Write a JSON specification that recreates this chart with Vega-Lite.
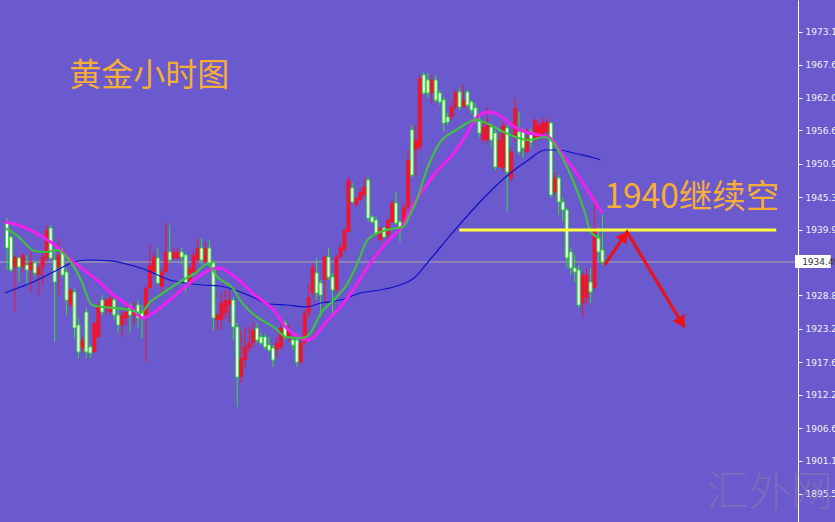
{
"$schema":"https://vega.github.io/schema/vega-lite/v6.json",
"width":798,"height":522,"autosize":{"type":"none"},
"padding":{"left":0,"top":0,"right":37,"bottom":0},
"background":"#6A5ACD",
"config":{"view":{"stroke":null}},
"datasets":{
"candles":[
{"i":0,"o":1941.03,"h":1941.87,"l":1933.15,"c":1936.84},
{"i":1,"o":1938.68,"h":1939.02,"l":1932.81,"c":1933.15},
{"i":2,"o":1933.65,"h":1935.66,"l":1926.09,"c":1935.33},
{"i":3,"o":1935.16,"h":1935.33,"l":1931.13,"c":1933.65},
{"i":4,"o":1933.65,"h":1936.00,"l":1932.81,"c":1935.66},
{"i":5,"o":1933.98,"h":1935.66,"l":1930.63,"c":1933.15},
{"i":6,"o":1933.15,"h":1936.17,"l":1929.45,"c":1934.49},
{"i":7,"o":1934.32,"h":1934.82,"l":1931.97,"c":1932.64},
{"i":8,"o":1932.31,"h":1933.98,"l":1928.95,"c":1933.65},
{"i":9,"o":1933.65,"h":1936.17,"l":1930.63,"c":1935.33},
{"i":10,"o":1935.16,"h":1940.70,"l":1934.49,"c":1939.86},
{"i":11,"o":1940.20,"h":1940.70,"l":1934.82,"c":1935.16},
{"i":12,"o":1934.82,"h":1936.50,"l":1921.06,"c":1931.13},
{"i":13,"o":1933.65,"h":1938.52,"l":1928.95,"c":1935.66},
{"i":14,"o":1936.17,"h":1936.84,"l":1931.97,"c":1932.31},
{"i":15,"o":1932.81,"h":1933.48,"l":1925.59,"c":1928.11},
{"i":16,"o":1927.27,"h":1930.12,"l":1926.77,"c":1929.79},
{"i":17,"o":1929.45,"h":1930.12,"l":1921.73,"c":1923.41},
{"i":18,"o":1923.91,"h":1925.09,"l":1918.37,"c":1919.38},
{"i":19,"o":1920.05,"h":1921.90,"l":1919.38,"c":1921.39},
{"i":20,"o":1926.09,"h":1926.77,"l":1918.37,"c":1919.38},
{"i":21,"o":1920.22,"h":1920.55,"l":1918.37,"c":1919.21},
{"i":22,"o":1919.38,"h":1924.42,"l":1919.21,"c":1924.25},
{"i":23,"o":1921.90,"h":1927.77,"l":1921.73,"c":1927.27},
{"i":24,"o":1928.11,"h":1928.95,"l":1925.59,"c":1926.09},
{"i":25,"o":1926.93,"h":1928.44,"l":1925.59,"c":1928.11},
{"i":26,"o":1926.09,"h":1928.95,"l":1925.59,"c":1928.44},
{"i":27,"o":1928.11,"h":1928.44,"l":1924.75,"c":1925.59},
{"i":28,"o":1925.59,"h":1926.77,"l":1922.57,"c":1923.91},
{"i":29,"o":1923.91,"h":1926.09,"l":1921.90,"c":1925.59},
{"i":30,"o":1925.09,"h":1927.27,"l":1923.91,"c":1926.09},
{"i":31,"o":1927.27,"h":1927.61,"l":1922.57,"c":1925.59},
{"i":32,"o":1925.59,"h":1927.77,"l":1923.91,"c":1926.43},
{"i":33,"o":1927.27,"h":1928.11,"l":1923.41,"c":1925.09},
{"i":34,"o":1926.09,"h":1927.27,"l":1921.73,"c":1925.09},
{"i":35,"o":1925.59,"h":1930.63,"l":1917.70,"c":1930.12},
{"i":36,"o":1930.12,"h":1937.34,"l":1929.79,"c":1933.98},
{"i":37,"o":1932.81,"h":1936.17,"l":1932.31,"c":1935.33},
{"i":38,"o":1935.16,"h":1936.84,"l":1930.63,"c":1930.96},
{"i":39,"o":1930.29,"h":1933.48,"l":1929.45,"c":1932.81},
{"i":40,"o":1932.81,"h":1941.20,"l":1932.64,"c":1936.17},
{"i":41,"o":1936.17,"h":1940.70,"l":1934.32,"c":1934.82},
{"i":42,"o":1935.16,"h":1936.84,"l":1934.82,"c":1936.17},
{"i":43,"o":1935.16,"h":1936.84,"l":1934.82,"c":1936.17},
{"i":44,"o":1936.17,"h":1936.84,"l":1933.98,"c":1935.33},
{"i":45,"o":1935.66,"h":1936.00,"l":1929.45,"c":1930.96},
{"i":46,"o":1930.96,"h":1933.98,"l":1930.63,"c":1933.48},
{"i":47,"o":1932.81,"h":1936.17,"l":1932.64,"c":1935.66},
{"i":48,"o":1934.82,"h":1938.52,"l":1934.32,"c":1936.84},
{"i":49,"o":1936.84,"h":1938.52,"l":1933.98,"c":1934.82},
{"i":50,"o":1934.49,"h":1937.85,"l":1934.32,"c":1936.84},
{"i":51,"o":1936.84,"h":1938.18,"l":1933.65,"c":1934.32},
{"i":52,"o":1934.32,"h":1934.82,"l":1923.07,"c":1925.09},
{"i":53,"o":1924.75,"h":1925.93,"l":1923.07,"c":1925.59},
{"i":54,"o":1924.75,"h":1929.28,"l":1923.07,"c":1927.61},
{"i":55,"o":1925.93,"h":1929.79,"l":1925.09,"c":1928.11},
{"i":56,"o":1927.27,"h":1929.79,"l":1924.25,"c":1928.11},
{"i":57,"o":1928.11,"h":1928.61,"l":1921.39,"c":1923.58},
{"i":58,"o":1923.58,"h":1924.25,"l":1910.15,"c":1915.18},
{"i":59,"o":1915.18,"h":1923.07,"l":1914.18,"c":1918.37},
{"i":60,"o":1918.04,"h":1923.58,"l":1916.86,"c":1920.22},
{"i":61,"o":1920.05,"h":1923.58,"l":1919.38,"c":1920.89},
{"i":62,"o":1920.89,"h":1924.42,"l":1920.22,"c":1923.07},
{"i":63,"o":1923.41,"h":1924.25,"l":1920.89,"c":1921.39},
{"i":64,"o":1921.90,"h":1922.57,"l":1920.55,"c":1920.89},
{"i":65,"o":1921.90,"h":1922.57,"l":1919.72,"c":1920.22},
{"i":66,"o":1920.55,"h":1921.90,"l":1919.21,"c":1919.72},
{"i":67,"o":1920.05,"h":1920.55,"l":1916.86,"c":1918.04},
{"i":68,"o":1919.72,"h":1921.90,"l":1918.54,"c":1920.89},
{"i":69,"o":1920.22,"h":1924.25,"l":1919.72,"c":1923.41},
{"i":70,"o":1924.25,"h":1924.75,"l":1921.39,"c":1921.90},
{"i":71,"o":1921.90,"h":1923.91,"l":1921.06,"c":1923.07},
{"i":72,"o":1921.39,"h":1921.90,"l":1919.72,"c":1920.55},
{"i":73,"o":1921.39,"h":1921.90,"l":1916.86,"c":1917.70},
{"i":74,"o":1917.70,"h":1921.39,"l":1917.20,"c":1920.89},
{"i":75,"o":1920.89,"h":1926.43,"l":1920.55,"c":1925.93},
{"i":76,"o":1925.93,"h":1930.96,"l":1925.26,"c":1928.61},
{"i":77,"o":1929.28,"h":1934.32,"l":1928.61,"c":1933.65},
{"i":78,"o":1932.64,"h":1935.16,"l":1928.11,"c":1929.28},
{"i":79,"o":1930.96,"h":1931.47,"l":1925.26,"c":1928.95},
{"i":80,"o":1931.47,"h":1935.66,"l":1927.61,"c":1935.33},
{"i":81,"o":1935.33,"h":1936.84,"l":1931.47,"c":1931.97},
{"i":82,"o":1931.97,"h":1932.64,"l":1925.93,"c":1929.79},
{"i":83,"o":1929.79,"h":1935.66,"l":1929.28,"c":1935.33},
{"i":84,"o":1935.33,"h":1937.68,"l":1935.16,"c":1937.01},
{"i":85,"o":1936.50,"h":1940.20,"l":1936.17,"c":1939.86},
{"i":86,"o":1939.52,"h":1948.76,"l":1939.36,"c":1948.25},
{"i":87,"o":1946.91,"h":1947.75,"l":1944.39,"c":1944.56},
{"i":88,"o":1944.06,"h":1945.40,"l":1943.72,"c":1945.23},
{"i":89,"o":1944.90,"h":1946.91,"l":1944.56,"c":1946.24},
{"i":90,"o":1945.74,"h":1948.76,"l":1945.40,"c":1947.08},
{"i":91,"o":1948.25,"h":1948.76,"l":1941.20,"c":1941.87},
{"i":92,"o":1942.04,"h":1942.38,"l":1941.03,"c":1941.20},
{"i":93,"o":1941.54,"h":1942.04,"l":1939.02,"c":1939.36},
{"i":94,"o":1938.18,"h":1940.36,"l":1937.68,"c":1940.20},
{"i":95,"o":1940.20,"h":1940.36,"l":1938.52,"c":1938.68},
{"i":96,"o":1939.02,"h":1942.04,"l":1937.68,"c":1941.54},
{"i":97,"o":1941.20,"h":1944.90,"l":1941.03,"c":1944.39},
{"i":98,"o":1944.39,"h":1946.24,"l":1940.70,"c":1941.03},
{"i":99,"o":1941.20,"h":1941.54,"l":1937.85,"c":1939.86},
{"i":100,"o":1941.03,"h":1944.39,"l":1940.70,"c":1943.72},
{"i":101,"o":1943.72,"h":1953.29,"l":1943.22,"c":1951.61},
{"i":102,"o":1956.65,"h":1957.49,"l":1948.59,"c":1949.09},
{"i":103,"o":1953.29,"h":1957.49,"l":1949.09,"c":1954.97},
{"i":104,"o":1953.79,"h":1965.88,"l":1953.29,"c":1965.38},
{"i":105,"o":1965.88,"h":1966.38,"l":1962.52,"c":1962.86},
{"i":106,"o":1965.04,"h":1966.22,"l":1962.02,"c":1962.86},
{"i":107,"o":1962.86,"h":1965.88,"l":1961.18,"c":1965.04},
{"i":108,"o":1965.04,"h":1965.88,"l":1961.18,"c":1961.68},
{"i":109,"o":1962.86,"h":1963.36,"l":1960.84,"c":1961.35},
{"i":110,"o":1961.68,"h":1962.19,"l":1956.31,"c":1957.82},
{"i":111,"o":1958.83,"h":1959.50,"l":1957.49,"c":1957.99},
{"i":112,"o":1958.83,"h":1961.35,"l":1958.33,"c":1960.51},
{"i":113,"o":1960.51,"h":1963.36,"l":1960.00,"c":1963.03},
{"i":114,"o":1963.03,"h":1963.70,"l":1960.00,"c":1960.51},
{"i":115,"o":1960.51,"h":1964.20,"l":1960.34,"c":1961.68},
{"i":116,"o":1963.03,"h":1963.36,"l":1960.51,"c":1960.84},
{"i":117,"o":1961.35,"h":1961.68,"l":1959.50,"c":1960.00},
{"i":118,"o":1960.34,"h":1961.18,"l":1957.82,"c":1958.33},
{"i":119,"o":1958.33,"h":1958.83,"l":1955.47,"c":1956.14},
{"i":120,"o":1954.97,"h":1957.82,"l":1954.46,"c":1957.15},
{"i":121,"o":1954.97,"h":1960.51,"l":1954.46,"c":1957.82},
{"i":122,"o":1957.15,"h":1957.82,"l":1953.79,"c":1954.97},
{"i":123,"o":1956.14,"h":1956.65,"l":1949.93,"c":1950.44},
{"i":124,"o":1950.44,"h":1956.14,"l":1950.27,"c":1954.97},
{"i":125,"o":1950.27,"h":1957.99,"l":1949.60,"c":1957.49},
{"i":126,"o":1956.98,"h":1957.49,"l":1942.88,"c":1949.60},
{"i":127,"o":1948.59,"h":1953.63,"l":1947.92,"c":1952.95},
{"i":128,"o":1955.30,"h":1962.02,"l":1954.63,"c":1960.34},
{"i":129,"o":1956.31,"h":1959.67,"l":1952.45,"c":1952.95},
{"i":130,"o":1956.31,"h":1956.98,"l":1951.95,"c":1953.63},
{"i":131,"o":1952.95,"h":1956.98,"l":1952.79,"c":1955.30},
{"i":132,"o":1956.31,"h":1956.98,"l":1953.63,"c":1954.63},
{"i":133,"o":1955.30,"h":1958.66,"l":1954.63,"c":1958.33},
{"i":134,"o":1955.47,"h":1957.99,"l":1954.97,"c":1957.49},
{"i":135,"o":1955.47,"h":1958.66,"l":1955.30,"c":1957.99},
{"i":136,"o":1956.31,"h":1958.66,"l":1955.81,"c":1957.99},
{"i":137,"o":1957.82,"h":1957.99,"l":1945.23,"c":1945.74},
{"i":138,"o":1946.24,"h":1949.60,"l":1945.74,"c":1948.59},
{"i":139,"o":1948.59,"h":1949.09,"l":1942.38,"c":1944.56},
{"i":140,"o":1944.56,"h":1945.23,"l":1941.20,"c":1943.22},
{"i":141,"o":1943.22,"h":1943.55,"l":1933.48,"c":1935.16},
{"i":142,"o":1936.17,"h":1936.84,"l":1932.31,"c":1933.48},
{"i":143,"o":1933.48,"h":1935.66,"l":1931.13,"c":1932.81},
{"i":144,"o":1933.15,"h":1933.98,"l":1926.77,"c":1927.27},
{"i":145,"o":1927.61,"h":1932.81,"l":1925.09,"c":1932.31},
{"i":146,"o":1928.44,"h":1933.48,"l":1927.27,"c":1932.31},
{"i":147,"o":1931.13,"h":1933.48,"l":1927.61,"c":1929.45},
{"i":148,"o":1930.12,"h":1945.40,"l":1929.79,"c":1940.20},
{"i":149,"o":1938.52,"h":1940.20,"l":1934.49,"c":1936.17},
{"i":150,"o":1936.50,"h":1942.38,"l":1933.98,"c":1934.49}
],
"ma":[
{"ma":"fast","i":-0.5,"v":1940.20},{"ma":"fast","i":2.73,"v":1938.85},{"ma":"fast","i":6.96,"v":1936.33},{"ma":"fast","i":9.95,"v":1936.17},{"ma":"fast","i":12.68,"v":1936.50},{"ma":"fast","i":15.67,"v":1934.82},{"ma":"fast","i":18.65,"v":1931.47},{"ma":"fast","i":21.39,"v":1927.27},{"ma":"fast","i":24.38,"v":1926.93},{"ma":"fast","i":27.61,"v":1926.77},{"ma":"fast","i":31.09,"v":1926.43},{"ma":"fast","i":33.58,"v":1925.93},{"ma":"fast","i":36.07,"v":1927.77},{"ma":"fast","i":39.30,"v":1929.28},{"ma":"fast","i":44.28,"v":1931.47},{"ma":"fast","i":47.51,"v":1932.64},{"ma":"fast","i":50.50,"v":1934.15},{"ma":"fast","i":52.98,"v":1931.97},{"ma":"fast","i":57.21,"v":1929.79},{"ma":"fast","i":58.70,"v":1928.11},{"ma":"fast","i":62.93,"v":1925.26},{"ma":"fast","i":67.16,"v":1923.58},{"ma":"fast","i":70.40,"v":1921.90},{"ma":"fast","i":73.63,"v":1921.73},{"ma":"fast","i":75.37,"v":1921.90},{"ma":"fast","i":76.61,"v":1922.74},{"ma":"fast","i":79.10,"v":1925.93},{"ma":"fast","i":82.34,"v":1928.11},{"ma":"fast","i":85.82,"v":1930.96},{"ma":"fast","i":88.31,"v":1934.32},{"ma":"fast","i":90.79,"v":1938.18},{"ma":"fast","i":94.03,"v":1939.52},{"ma":"fast","i":98.26,"v":1940.20},{"ma":"fast","i":99.75,"v":1940.36},{"ma":"fast","i":101.49,"v":1942.38},{"ma":"fast","i":103.23,"v":1944.90},{"ma":"fast","i":105.72,"v":1949.93},{"ma":"fast","i":108.95,"v":1954.46},{"ma":"fast","i":113.18,"v":1956.65},{"ma":"fast","i":118.16,"v":1958.33},{"ma":"fast","i":120.64,"v":1957.82},{"ma":"fast","i":125.62,"v":1956.14},{"ma":"fast","i":131.34,"v":1954.97},{"ma":"fast","i":135.57,"v":1955.47},{"ma":"fast","i":137.06,"v":1954.97},{"ma":"fast","i":139.55,"v":1952.45},{"ma":"fast","i":143.03,"v":1947.41},{"ma":"fast","i":145.52,"v":1942.88},{"ma":"fast","i":147.01,"v":1939.52},{"ma":"fast","i":149.50,"v":1938.52},
{"ma":"mid","i":-0.5,"v":1941.20},{"ma":"mid","i":2.73,"v":1940.70},{"ma":"mid","i":9.45,"v":1938.52},{"ma":"mid","i":12.68,"v":1937.01},{"ma":"mid","i":16.17,"v":1934.82},{"ma":"mid","i":19.40,"v":1933.15},{"ma":"mid","i":22.63,"v":1931.47},{"ma":"mid","i":26.86,"v":1928.95},{"ma":"mid","i":31.09,"v":1926.93},{"ma":"mid","i":34.33,"v":1925.09},{"ma":"mid","i":36.81,"v":1925.93},{"ma":"mid","i":41.04,"v":1928.11},{"ma":"mid","i":46.02,"v":1930.96},{"ma":"mid","i":50.99,"v":1933.15},{"ma":"mid","i":53.48,"v":1933.48},{"ma":"mid","i":57.46,"v":1931.97},{"ma":"mid","i":62.44,"v":1928.95},{"ma":"mid","i":67.16,"v":1926.43},{"ma":"mid","i":70.40,"v":1923.41},{"ma":"mid","i":73.63,"v":1921.90},{"ma":"mid","i":75.37,"v":1921.39},{"ma":"mid","i":76.61,"v":1921.56},{"ma":"mid","i":80.84,"v":1924.75},{"ma":"mid","i":84.82,"v":1927.61},{"ma":"mid","i":88.31,"v":1930.96},{"ma":"mid","i":91.54,"v":1934.32},{"ma":"mid","i":95.77,"v":1937.85},{"ma":"mid","i":99.75,"v":1940.70},{"ma":"mid","i":102.24,"v":1944.06},{"ma":"mid","i":105.72,"v":1947.41},{"ma":"mid","i":108.95,"v":1950.27},{"ma":"mid","i":112.19,"v":1952.45},{"ma":"mid","i":115.67,"v":1955.81},{"ma":"mid","i":118.90,"v":1959.16},{"ma":"mid","i":121.39,"v":1959.67},{"ma":"mid","i":123.88,"v":1959.16},{"ma":"mid","i":127.11,"v":1957.49},{"ma":"mid","i":130.60,"v":1956.31},{"ma":"mid","i":133.83,"v":1955.81},{"ma":"mid","i":136.32,"v":1955.47},{"ma":"mid","i":140.54,"v":1951.95},{"ma":"mid","i":143.78,"v":1949.09},{"ma":"mid","i":147.01,"v":1945.74},{"ma":"mid","i":150.00,"v":1942.71},
{"ma":"slow","i":-0.5,"v":1929.28},{"ma":"slow","i":2.73,"v":1930.12},{"ma":"slow","i":7.71,"v":1931.47},{"ma":"slow","i":12.68,"v":1933.15},{"ma":"slow","i":16.17,"v":1934.32},{"ma":"slow","i":20.15,"v":1934.82},{"ma":"slow","i":26.12,"v":1934.66},{"ma":"slow","i":31.09,"v":1933.98},{"ma":"slow","i":35.07,"v":1933.15},{"ma":"slow","i":41.04,"v":1931.47},{"ma":"slow","i":45.02,"v":1930.96},{"ma":"slow","i":49.25,"v":1930.63},{"ma":"slow","i":53.48,"v":1930.46},{"ma":"slow","i":57.46,"v":1929.79},{"ma":"slow","i":62.44,"v":1928.44},{"ma":"slow","i":65.92,"v":1927.44},{"ma":"slow","i":70.40,"v":1927.27},{"ma":"slow","i":75.37,"v":1926.93},{"ma":"slow","i":79.10,"v":1927.61},{"ma":"slow","i":84.08,"v":1928.11},{"ma":"slow","i":89.05,"v":1929.28},{"ma":"slow","i":94.03,"v":1929.79},{"ma":"slow","i":99.00,"v":1930.63},{"ma":"slow","i":102.24,"v":1931.63},{"ma":"slow","i":106.47,"v":1934.82},{"ma":"slow","i":112.19,"v":1939.36},{"ma":"slow","i":118.90,"v":1944.39},{"ma":"slow","i":125.62,"v":1948.76},{"ma":"slow","i":131.34,"v":1951.61},{"ma":"slow","i":135.57,"v":1953.29},{"ma":"slow","i":138.80,"v":1953.29},{"ma":"slow","i":143.78,"v":1952.62},{"ma":"slow","i":148.01,"v":1951.95},{"ma":"slow","i":149.50,"v":1951.61}
],
"level":[{"i":113.93,"i2":193.78,"v":1939.86}],
"arrow":[{"i":150.5,"v":1933.98},{"i":156.2,"v":1939.52},{"i":170.6,"v":1923.58}],
"head1":[{"i":155.5,"v":1938.83}],
"head2":[{"i":169.95,"v":1924.30}],
"titles":[{"i":15.7,"v":1965.70,"t":"黄金小时图"}],
"call":[{"i":150.5,"v":1945.30,"t":"1940继续空"}],
"mark":[{"i":176.3,"v":1895.71,"t":"汇外网"}],
"last":[{"i":198.5,"i2":207.5,"v":1935.66,"v2":1933.48,"p":1934.49,"ti":200.3}]
},
"layer":[
{"data":{"values":[{"p":1934.49}]},"mark":{"type":"rule","color":"#b9a9a6","strokeWidth":1},
 "encoding":{"y":{"field":"p","type":"quantitative","scale":{"domain":[1890.84,1978.47],"nice":false,"zero":false},
   "axis":{"orient":"right","title":null,"values":[1973.10,1967.60,1962.05,1956.60,1950.99,1945.38,1939.94,1928.88,1923.27,1917.66,1912.22,1906.61,1901.16,1895.55],
   "format":".2f","grid":false,"domainColor":"#ffffff","domainWidth":1,"tickColor":"#ffffff","tickSize":4,"labelColor":"#f2f2f2","labelFont":"DejaVu Sans","labelFontSize":9,"labelPadding":3}}}},
{"data":{"name":"candles"},"mark":{"type":"rule","strokeWidth":1},
 "encoding":{"x":{"field":"i","type":"quantitative","scale":{"domain":[-0.5,198],"nice":false,"zero":false},"axis":null},
  "y":{"field":"h","type":"quantitative"},"y2":{"field":"l"},
  "color":{"condition":{"test":"datum.c > datum.o","value":"#ee1530"},"value":"#2fe02f"}}},
{"data":{"name":"candles"},"transform":[{"filter":"datum.c > datum.o"}],"mark":{"type":"bar","size":4,"color":"#ee1530"},
 "encoding":{"x":{"field":"i","type":"quantitative"},"y":{"field":"o","type":"quantitative"},"y2":{"field":"c"}}},
{"data":{"name":"candles"},"transform":[{"filter":"datum.c <= datum.o"}],"mark":{"type":"bar","size":3,"fill":"#f4fff4","stroke":"#2fe02f","strokeWidth":1},
 "encoding":{"x":{"field":"i","type":"quantitative"},"y":{"field":"o","type":"quantitative"},"y2":{"field":"c"}}},
{"data":{"name":"ma"},"transform":[{"filter":"datum.ma == 'slow'"}],"mark":{"type":"line","color":"#1010c8","strokeWidth":1.2,"interpolate":"monotone"},
 "encoding":{"x":{"field":"i","type":"quantitative"},"y":{"field":"v","type":"quantitative"}}},
{"data":{"name":"ma"},"transform":[{"filter":"datum.ma == 'mid'"}],"mark":{"type":"line","color":"#f020f0","strokeWidth":3,"interpolate":"monotone"},
 "encoding":{"x":{"field":"i","type":"quantitative"},"y":{"field":"v","type":"quantitative"}}},
{"data":{"name":"ma"},"transform":[{"filter":"datum.ma == 'fast'"}],"mark":{"type":"line","color":"#3fc040","strokeWidth":2.2,"interpolate":"monotone"},
 "encoding":{"x":{"field":"i","type":"quantitative"},"y":{"field":"v","type":"quantitative"}}},
{"data":{"name":"level"},"mark":{"type":"rule","color":"#ffff3a","strokeWidth":3},
 "encoding":{"x":{"field":"i","type":"quantitative"},"x2":{"field":"i2"},"y":{"field":"v","type":"quantitative"}}},
{"data":{"name":"arrow"},"mark":{"type":"line","color":"#ee1111","strokeWidth":3},
 "encoding":{"x":{"field":"i","type":"quantitative"},"y":{"field":"v","type":"quantitative"}}},
{"data":{"name":"head1"},"mark":{"type":"point","shape":"triangle-up","filled":true,"color":"#ee1111","size":170,"angle":35,"opacity":1},
 "encoding":{"x":{"field":"i","type":"quantitative"},"y":{"field":"v","type":"quantitative"}}},
{"data":{"name":"head2"},"mark":{"type":"point","shape":"triangle-up","filled":true,"color":"#ee1111","size":190,"angle":149,"opacity":1},
 "encoding":{"x":{"field":"i","type":"quantitative"},"y":{"field":"v","type":"quantitative"}}},
{"data":{"name":"titles"},"mark":{"type":"text","align":"left","baseline":"middle","font":"Noto Sans CJK SC","fontSize":32,"color":"#f5ad35"},
 "encoding":{"x":{"field":"i","type":"quantitative"},"y":{"field":"v","type":"quantitative"},"text":{"field":"t"}}},
{"data":{"name":"call"},"mark":{"type":"text","align":"left","baseline":"middle","font":"Noto Sans CJK SC","fontSize":33.5,"color":"#f5ad35"},
 "encoding":{"x":{"field":"i","type":"quantitative"},"y":{"field":"v","type":"quantitative"},"text":{"field":"t"}}},
{"data":{"name":"mark"},"mark":{"type":"text","align":"left","baseline":"middle","font":"Noto Sans CJK SC","fontWeight":300,"fontSize":42,"color":"#8a84a4","opacity":0.45},
 "encoding":{"x":{"field":"i","type":"quantitative"},"y":{"field":"v","type":"quantitative"},"text":{"field":"t"}}},
{"data":{"name":"last"},"mark":{"type":"rect","color":"#ffffff"},
 "encoding":{"x":{"field":"i","type":"quantitative"},"x2":{"field":"i2"},"y":{"field":"v","type":"quantitative"},"y2":{"field":"v2"}}},
{"data":{"name":"last"},"mark":{"type":"text","align":"left","baseline":"middle","font":"DejaVu Sans","fontSize":9,"color":"#333333"},
 "encoding":{"x":{"field":"ti","type":"quantitative"},"y":{"field":"p","type":"quantitative"},"text":{"field":"p","type":"quantitative","format":".2f"}}}
]
}
